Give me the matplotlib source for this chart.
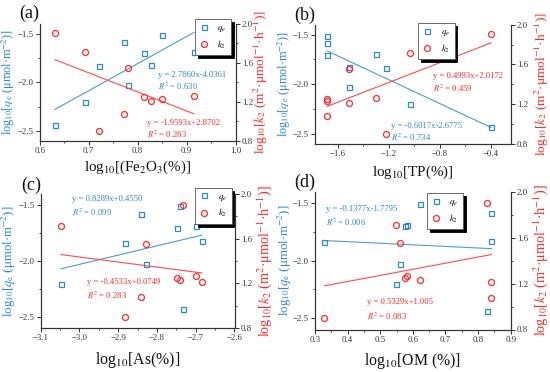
import matplotlib
matplotlib.use('Agg')
import matplotlib.pyplot as plt
from matplotlib.ticker import MultipleLocator
from matplotlib.lines import Line2D
import numpy as np

plt.rcParams['font.family'] = ['Liberation Serif', 'DejaVu Serif']
plt.rcParams['mathtext.fontset'] = 'stix'

# ---- data (9 soil samples) ----
qe = [-2.435, -2.205, -1.836, -1.582, -2.031, -1.702, -1.825, -1.510, -1.692]
k2 = [1.904, 1.713, 0.899, 1.077, 1.552, 1.248, 1.214, 1.228, 1.265]
fe2o3 = [0.631, 0.692, 0.722, 0.7725, 0.7806, 0.813, 0.8275, 0.8506, 0.915]
tp = [-0.401, -1.035, -1.226, -1.684, -1.514, -1.684, -1.514, -1.684, -1.302]
as_pct = [-2.732, -3.047, -2.881, -2.842, -2.827, -2.749, -2.684, -2.741, -2.699]
om = [0.828, 0.548, 0.329, 0.841, 0.561, 0.577, 0.841, 0.623, 0.583]

qe_slope = [2.7860, -0.6017, 0.8289, -0.1377]
qe_intercept = [-4.0361, -2.6775, 0.4550, -1.7795]
k2_slope = [-1.9593, 0.4993, -0.4533, 0.5329]
k2_intercept = [2.8702, 2.0172, 0.0749, 1.005]
qe_eq = ['y = 2.7860x-4.0361', 'y = -0.6017x-2.6775', 'y = 0.8289x+0.4550', 'y = -0.1377x-1.7795']
k2_eq = ['y = -1.9593x+2.8702', 'y = 0.4993x+2.0172', 'y = -0.4533x+0.0749', 'y = 0.5329x+1.005']
qe_r2 = ['0.630', '0.734', '0.099', '0.006']
k2_r2 = ['0.283', '0.459', '0.283', '0.083']

panel_letters = ['(a)', '(b)', '(c)', '(d)']
xlabels = [r'log$_{10}$[(Fe$_2$O$_3$(%)]', r'log$_{10}$[TP(%)]',
           r'log$_{10}$[As(%)]', r'log$_{10}$[OM (%)]']
xlims = [(0.6, 1.0), (-1.78, -0.245), (-3.1, -2.6), (0.3, 0.9)]
xmajor = [0.1, 0.4, 0.1, 0.1]
xvals = [fe2o3, tp, as_pct, om]

# ---- layout (pixel based) ----
W, H = 550, 372
boxes = [(39.7, 235.5, 24.0, 140.8), (315.0, 510.7, 24.8, 143.6),
         (40.5, 234.5, 193.8, 327.9), (315.0, 510.7, 191.8, 329.5)]
qe_txt = [(0.603, 0.564), (0.388, 0.152), (0.164, 0.960), (0.056, 0.878)]
k2_txt = [(0.547, 0.154), (0.603, 0.566), (0.241, 0.344), (0.266, 0.199)]
leg_anchor = [(0.977, 1.043), (0.713, 1.013), (0.985, 1.045), (0.756, 0.99)]
letter_pos = [(29, 13.5), (305, 15), (31, 185), (305, 182)]
ylab_left = [-0.116, -0.113, -0.117, -0.107]
ylab_right = [1.084, 1.114, 1.108, 1.107]
xlab_y = [-0.156, -0.172, -0.165, -0.156]
row_scale = [1.0, 1.0, 1.06, 1.06]

BLUE = '#2e88cc'
RED = '#ff2a2a'
BLUE_L = '#4d9ad6'
RED_L = '#ff4a4a'
AXC = '#333333'

fig = plt.figure(figsize=(W / 100, H / 100), dpi=100)

for i in range(4):
    l, r, t, b = boxes[i]
    sc = row_scale[i]
    ax = fig.add_axes([l / W, 1 - b / H, (r - l) / W, (b - t) / H])
    ax2 = ax.twinx()
    x = np.array(xvals[i])

    ax.plot(x, qe, ls='none', marker='s', ms=3.6, mfc='none', mec=BLUE, mew=0.9, zorder=3)
    xx = np.array([x.min(), x.max()])
    ax.plot(xx, qe_slope[i] * xx + qe_intercept[i], color=BLUE_L, lw=0.8)
    ax2.plot(x, k2, ls='none', marker='o', ms=4.3, mfc='none', mec=RED, mew=0.9, zorder=3)
    ax2.plot(xx, k2_slope[i] * xx + k2_intercept[i], color=RED_L, lw=0.8)

    ax.set_xlim(*xlims[i])
    ax.set_ylim(-2.6, -1.4)
    ax2.set_ylim(0.8, 2.0)
    ax.xaxis.set_major_locator(MultipleLocator(xmajor[i]))
    ax.xaxis.set_minor_locator(MultipleLocator(xmajor[i] / 2))
    ax.yaxis.set_major_locator(MultipleLocator(0.5))
    ax.yaxis.set_minor_locator(MultipleLocator(0.25))
    ax2.yaxis.set_major_locator(MultipleLocator(0.4))
    ax2.yaxis.set_minor_locator(MultipleLocator(0.2))

    for a in (ax, ax2):
        a.spines['top'].set_visible(False)
        for s in a.spines.values():
            s.set_color(AXC)
            s.set_linewidth(0.8)
        a.tick_params(which='major', direction='out', length=3, width=0.7,
                      colors=AXC, labelsize=6.3, pad=1.5)
        a.tick_params(which='minor', direction='out', length=1.6, width=0.6, colors=AXC)
    ax.tick_params(axis='y', which='both', right=False)

    ax.set_xlabel(xlabels[i], fontsize=10.8 * sc, color='#111111')
    ax.xaxis.set_label_coords(0.5, xlab_y[i])
    ax.set_ylabel(r'log$_{10}$[$q_{\rm e}$ (μmol·m$^{-2}$)]', fontsize=8.8 * sc, color=BLUE)
    ax.yaxis.set_label_coords(ylab_left[i], 0.5)
    ax2.set_ylabel(r'log$_{10}$[$k_2$ (m$^2$·μmol$^{-1}$·h$^{-1}$)]', fontsize=9.6 * sc, color=RED)
    ax2.yaxis.set_label_coords(ylab_right[i], 0.5)

    ax.text(qe_txt[i][0], qe_txt[i][1], qe_eq[i], transform=ax.transAxes, fontsize=6.2,
            color=BLUE, va='center', ha='left')
    ax.text(qe_txt[i][0], qe_txt[i][1] - 0.1, r'$R^2$ = ' + qe_r2[i], transform=ax.transAxes,
            fontsize=6.2, color=BLUE, va='center', ha='left')
    ax2.text(k2_txt[i][0], k2_txt[i][1], k2_eq[i], transform=ax.transAxes, fontsize=6.2,
             color=RED, va='center', ha='left')
    ax2.text(k2_txt[i][0], k2_txt[i][1] - 0.1, r'$R^2$ = ' + k2_r2[i], transform=ax.transAxes,
             fontsize=6.2, color=RED, va='center', ha='left')

    handles = [Line2D([], [], ls='none', marker='s', ms=3.6, mfc='none', mec=BLUE, mew=0.9),
               Line2D([], [], ls='none', marker='o', ms=4.3, mfc='none', mec=RED, mew=0.9)]
    leg = ax2.legend(handles, [r'$q_e$', r'$k_2$'], loc='upper right',
                     bbox_to_anchor=leg_anchor[i], bbox_transform=ax.transAxes,
                     fontsize=6.5, frameon=True, fancybox=False, edgecolor='#555555',
                     shadow={'color': 'black', 'alpha': 1.0}, framealpha=1,
                     handlelength=1.0, handletextpad=1.0, borderpad=0.5,
                     labelspacing=0.5, borderaxespad=0)
    leg.get_frame().set_linewidth(0.6)

    fig.text(letter_pos[i][0] / W, 1 - letter_pos[i][1] / H, panel_letters[i],
             fontsize=13, ha='center', va='center', color='#111111')

fig.savefig('out.png', dpi=100)
